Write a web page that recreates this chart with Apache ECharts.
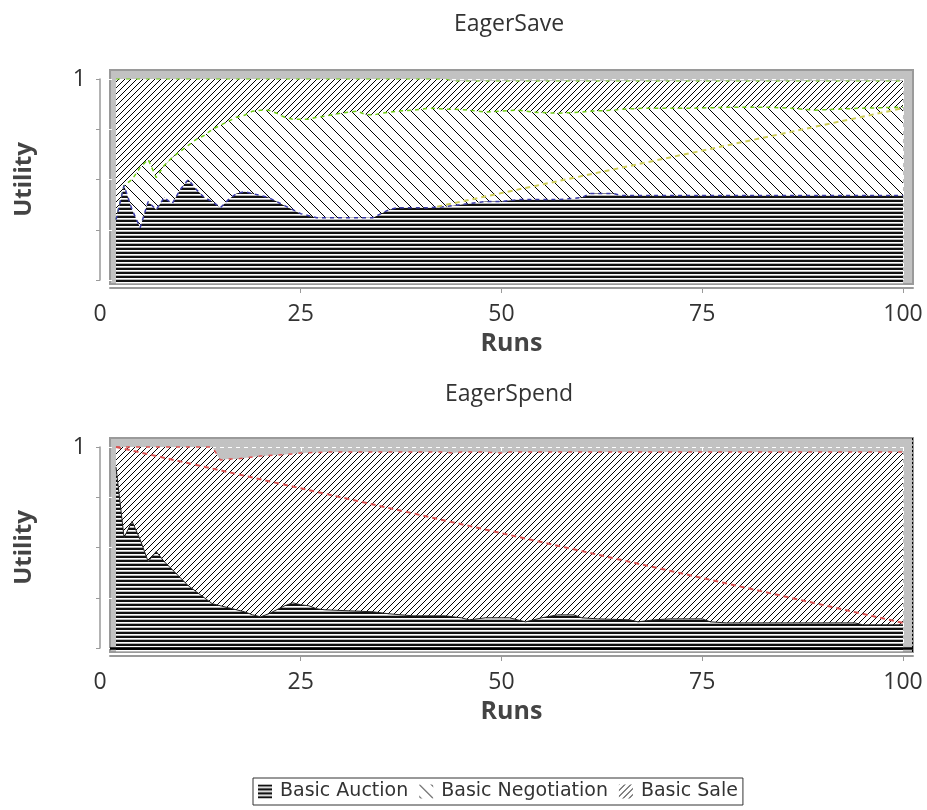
<!DOCTYPE html>
<html><head><meta charset="utf-8">
<script src="https://cdn.jsdelivr.net/npm/echarts@6/dist/echarts.min.js"></script>
<style>html,body{margin:0;padding:0;background:#fff}#c{width:927px;height:810px}</style>
</head><body><div id="c"></div>
<script>
// ---- data ----
const xTickValues = [25, 50, 75, 100];
const seriesNames = ['Basic Auction', 'Basic Negotiation', 'Basic Sale'];

// EagerSave: upper edge of each stacked layer (cumulative utility)
const runsSave = [2,3,4,5,6,7,8,9,10,11,12,13,14,15,16,17,18,19,20,21,22,23,24,25,26,27,28,30,32,33,34,35,36,37,39,41,43,44,46,48,50,52,54,57,60,61,64,65,68,74,79,83,86,89,92,95,100];
const saveAuction = [.30,.47,.35,.26,.39,.35,.41,.38,.45,.50,.45,.41,.39,.36,.40,.43,.44,.43,.42,.41,.39,.37,.35,.33,.32,.31,.31,.31,.31,.31,.31,.33,.35,.36,.36,.36,.365,.37,.38,.39,.39,.40,.40,.40,.41,.43,.43,.42,.42,.42,.42,.42,.42,.42,.42,.42,.42];
const saveNegotiationTop = [.30,.47,.50,.56,.60,.51,.57,.61,.64,.67,.70,.72,.75,.77,.79,.81,.82,.84,.845,.845,.83,.81,.80,.80,.80,.81,.815,.83,.84,.825,.82,.83,.835,.84,.845,.855,.85,.85,.845,.835,.84,.845,.835,.83,.835,.84,.845,.85,.855,.855,.86,.86,.855,.845,.85,.855,.86];
const saveSaleTop = [1,1,1,1,1,1,1,1,1,1,1,1,1,1,1,1,1,1,1,1,1,1,1,1,1,1,1,1,1,1,1,1,1,1,1,1,1,.99,.99,.99,.99,.99,.99,.99,.99,.99,.99,.99,.99,.99,.99,.99,.99,.99,.99,.99,.99];
const saveGuideRuns = [42, 100];
const saveGuideValues = [0.365, 0.855];

// EagerSpend
const runsSpend = [2,3,4,5,6,7,8,9,10,11,12,13,14,15,16,17,18,19,20,21,22,23,24,25,26,27,28,31,34,35,36,39,43,44,45,46,48,50,51,52,53,55,57,59,60,62,66,67,69,71,75,76,78,94,95,100];
const spendAuction = [.90,.55,.63,.54,.43,.48,.43,.39,.35,.31,.28,.25,.22,.21,.20,.19,.18,.165,.155,.17,.19,.21,.225,.215,.21,.195,.19,.185,.18,.175,.17,.16,.16,.155,.15,.14,.15,.15,.15,.14,.13,.15,.165,.165,.15,.145,.14,.13,.14,.145,.145,.13,.125,.125,.115,.115];
const spendSaleTop = [1,1,1,1,1,1,1,1,1,1,1,1,1,.935,.94,.94,.945,.95,.955,.958,.96,.963,.966,.97,.972,.973,.975,.975,.975,.975,.975,.975,.975,.97,.975,.975,.975,.97,.975,.975,.975,.975,.975,.975,.975,.975,.975,.975,.975,.975,.975,.975,.975,.975,.975,.975];
const spendGuideRuns = [2, 100];
const spendGuideValues = [1.0, 0.125];

// ---- patterns ----
function makePattern(w, h, draw) {
  const c = document.createElement('canvas');
  c.width = w; c.height = h;
  const g = c.getContext('2d');
  g.fillStyle = '#fff'; g.fillRect(0, 0, w, h);
  draw(g, w, h);
  return { image: c, repeat: 'repeat' };
}
const auctionPat = makePattern(4, 4, (g) => {
  g.fillStyle = '#111'; g.fillRect(0, 0, 4, 2);
  g.fillStyle = '#b8b8b8'; g.fillRect(0, 3, 4, 1);
});
const negotiationPat = makePattern(12, 12, (g, w) => {
  g.fillStyle = '#000';
  for (let i = 0; i < w; i++) g.fillRect(i, i, 1, 1);
});
const salePat = makePattern(6, 6, (g, w) => {
  g.fillStyle = '#000';
  for (let i = 0; i < w; i++) g.fillRect(i, w - 1 - i, 1, 1);
});

const pairs = (xs, ys) => xs.map((x, i) => [x, ys[i]]);

const FONT = "'Open Sans', 'Noto Sans', sans-serif";

function gridsFor(top) {
  return [
    { left: 110, right: 14, top: top, height: 214, show: true, backgroundColor: '#c2c2c2', borderColor: '#9a9a9a', borderWidth: 2 },
    { left: 100, right: 24, top: top + 9, height: 201 }
  ];
}
function xAxesFor(gi) {
  return [
    { gridIndex: gi, type: 'value', min: 1.25, max: 101.25, offset: 4,
      axisLine: { show: true, onZero: false, lineStyle: { color: '#9a9a9a', width: 2 } },
      axisTick: { show: true, customValues: xTickValues, length: 5, lineStyle: { color: '#9a9a9a' } },
      axisLabel: { show: false }, splitLine: { show: false },
      name: 'Runs', nameLocation: 'middle', nameGap: 43,
      nameTextStyle: { fontSize: 25, fontWeight: 'bold', color: '#444', fontFamily: FONT } },
    { gridIndex: gi + 1, type: 'value', min: 0, max: 100, interval: 25, z: 1,
      axisLine: { show: false }, axisTick: { show: false },
      axisLabel: { show: true, fontSize: 23, color: '#333', margin: 23, fontFamily: FONT },
      splitLine: { show: true, lineStyle: { color: '#fff', type: [4, 4], width: 1 } } }
  ];
}
function yAxesFor(gi) {
  return [
    { gridIndex: gi, type: 'value', min: -0.02, max: 1.045, show: false },
    { gridIndex: gi + 1, type: 'value', min: 0, max: 1, interval: 0.25, z: 1,
      axisLine: { show: true, lineStyle: { color: '#9a9a9a', width: 1.5 } },
      axisTick: { show: true, length: 4, lineStyle: { color: '#9a9a9a' } },
      axisLabel: { show: true, fontSize: 23, color: '#333', margin: 14, fontFamily: FONT,
        formatter: (v) => (v === 1 ? '1' : '') },
      splitLine: { show: true, lineStyle: { color: '#fff', type: [4, 4], width: 1 } },
      name: 'Utility', nameLocation: 'middle', nameGap: 64,
      nameTextStyle: { fontSize: 24, fontWeight: 'bold', color: '#444', fontFamily: FONT } }
  ];
}

// layers are drawn from the highest edge down so each lower layer covers the one above it
function layer(name, ai, data, pat, lineColor, lineType, lw, z) {
  return { name, type: 'line', xAxisIndex: ai, yAxisIndex: ai, data,
    showSymbol: false, symbol: 'none', silent: true, z,
    lineStyle: { color: lineColor, type: lineType, width: lw },
    itemStyle: { color: lineColor },
    areaStyle: { color: pat, opacity: 1, origin: 'start' }, emphasis: { disabled: true } };
}
function guide(ai, xs, ys, color) {
  return { type: 'line', xAxisIndex: ai, yAxisIndex: ai, data: pairs(xs, ys),
    showSymbol: false, symbol: 'none', silent: true, z: 6,
    lineStyle: { color, type: [5, 4], width: 2 }, emphasis: { disabled: true } };
}

const spendAuctionLayer = layer(seriesNames[0], 2, pairs(runsSpend, spendAuction), auctionPat, '#222', 'solid', 1, 4);
spendAuctionLayer.markLine = {
  silent: true, symbol: 'none', label: { show: false }, animation: false,
  data: [
    { yAxis: 0, lineStyle: { color: '#000', width: 2.5, type: 'solid' } },
    { xAxis: 101.15, lineStyle: { color: '#000', width: 1, type: [2, 2] } }
  ]
};

const titleStyle = { fontSize: 23, fontWeight: 'normal', color: '#333', fontFamily: FONT };
const option = {
  animation: false,
  title: [
    { text: 'EagerSave', left: 504, top: 8, textAlign: 'center', textStyle: titleStyle },
    { text: 'EagerSpend', left: 504, top: 378, textAlign: 'center', textStyle: titleStyle }
  ],
  legend: {
    left: 253, top: 778, orient: 'horizontal', selectedMode: false,
    itemWidth: 14, itemHeight: 14, itemGap: 11, padding: [4, 5],
    borderColor: '#333', borderWidth: 1, borderRadius: 0,
    textStyle: { fontSize: 19, color: '#333', fontFamily: "'DejaVu Sans', sans-serif", padding: [0, 0, 0, 3] },
    data: [
      { name: seriesNames[0], icon: 'rect', itemStyle: { color: auctionPat }, lineStyle: { width: 0, opacity: 0 } },
      { name: seriesNames[1], icon: 'rect', itemStyle: { color: negotiationPat }, lineStyle: { width: 0, opacity: 0 } },
      { name: seriesNames[2], icon: 'rect', itemStyle: { color: salePat }, lineStyle: { width: 0, opacity: 0 } }
    ]
  },
  grid: [...gridsFor(70), ...gridsFor(438)],
  xAxis: [...xAxesFor(0), ...xAxesFor(2)],
  yAxis: [...yAxesFor(0), ...yAxesFor(2)],
  series: [
    layer(seriesNames[2], 0, pairs(runsSave, saveSaleTop), salePat, '#6ccc10', [4, 6], 1, 2),
    layer(seriesNames[1], 0, pairs(runsSave, saveNegotiationTop), negotiationPat, '#6ccc10', [4, 4], 1.5, 3),
    layer(seriesNames[0], 0, pairs(runsSave, saveAuction), auctionPat, '#3a3aa8', [4, 4], 1.5, 4),
    guide(0, saveGuideRuns, saveGuideValues, '#cccc55'),
    layer(seriesNames[2], 2, pairs(runsSpend, spendSaleTop), salePat, '#e05050', [4, 6], 1.5, 2),
    spendAuctionLayer,
    guide(2, spendGuideRuns, spendGuideValues, '#d85050')
  ]
};
echarts.init(document.getElementById('c')).setOption(option);
</script>
</body></html>
